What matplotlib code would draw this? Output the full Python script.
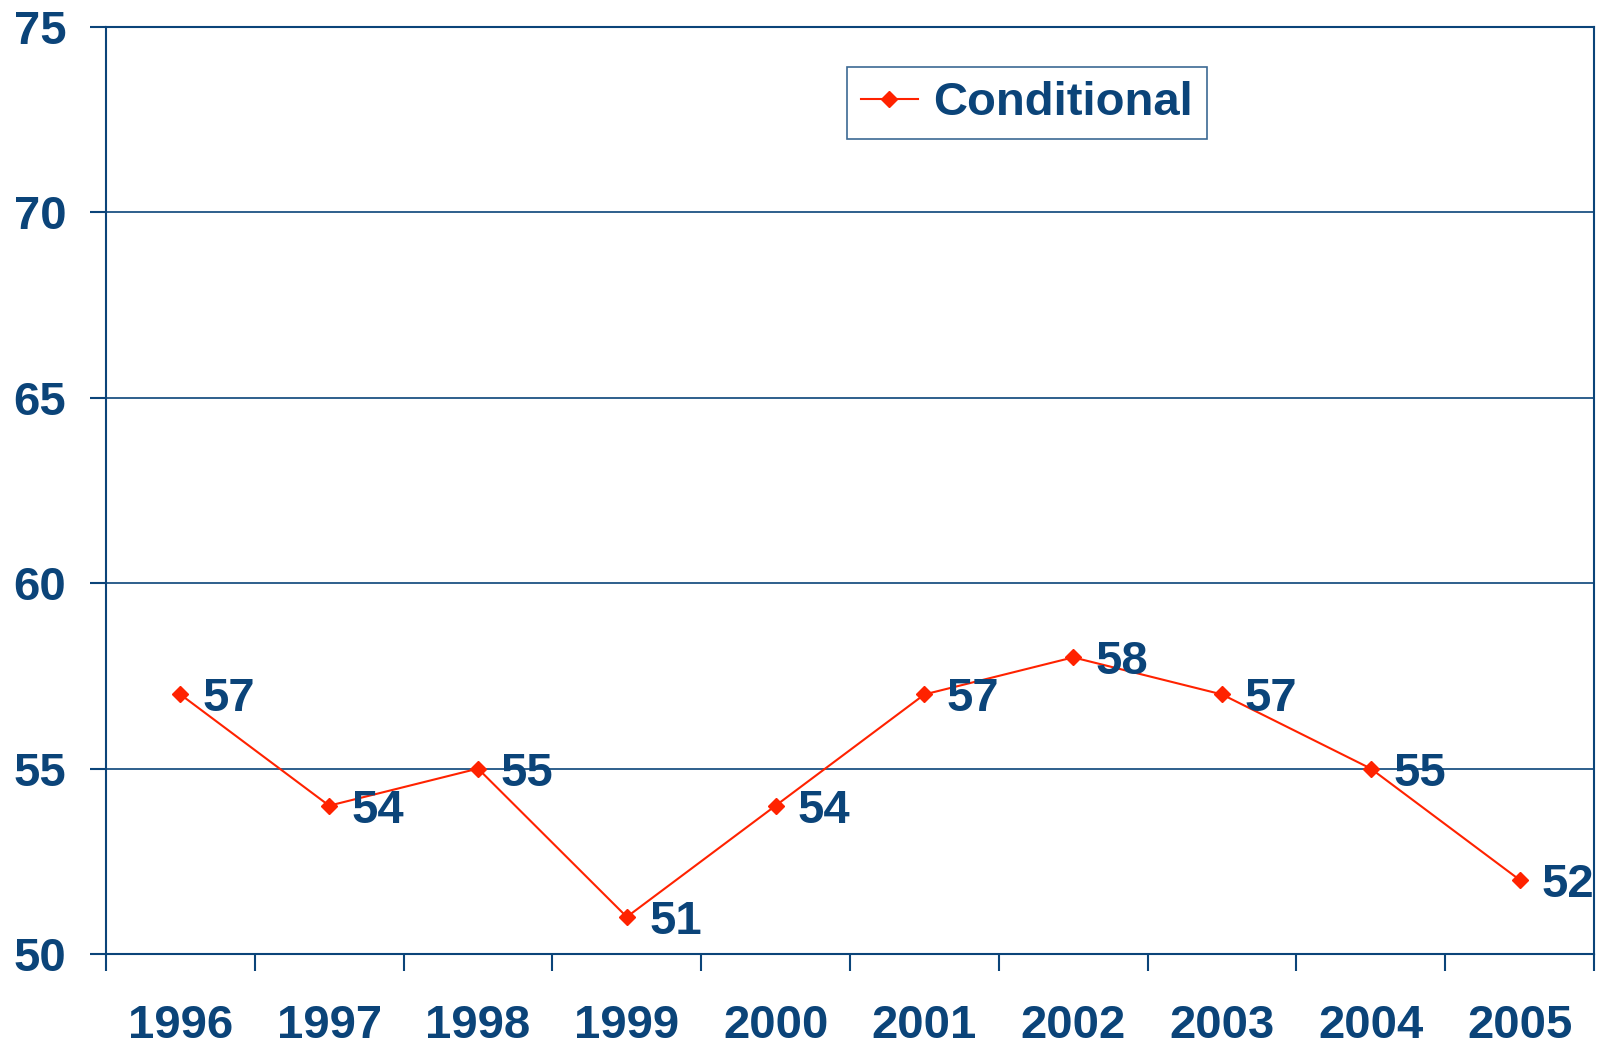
import matplotlib.pyplot as plt
import numpy as np

years = ["1996", "1997", "1998", "1999", "2000", "2001", "2002", "2003", "2004", "2005"]
conditional = [57, 54, 55, 51, 54, 57, 58, 57, 55, 52]

navy = "#0B4479"
red = "#FF2200"
fs = 34

plt.rcParams["font.family"] = ["Liberation Sans", "DejaVu Sans"]
plt.rcParams["font.weight"] = "bold"

W, H = 1607, 1049
fig = plt.figure(figsize=(W / 100, H / 100), dpi=100)
ax = fig.add_axes([106 / W, 1 - 954 / H, (1594 - 106) / W, (954 - 27) / H])

x = np.arange(len(years))
ax.plot(x, conditional, color=red, lw=1.5, marker="D", ms=8.5, label="Conditional")
for xi, v in zip(x, conditional):
    ax.annotate(str(v), (xi, v), xytext=(16, 0), textcoords="offset points",
                va="center_baseline", ha="left", fontsize=fs, color=navy,
                fontweight="bold")

ax.set_xlim(-0.5, len(years) - 0.5)
ax.set_ylim(50, 75)
ax.set_yticks(range(50, 76, 5))
ax.set_xticks(np.arange(-0.5, len(years), 1))
ax.set_xticklabels([])
ax.set_xticks(x, minor=True)
ax.set_xticklabels(years, minor=True)
ax.tick_params(axis="x", which="minor", length=0, pad=36, labelsize=fs, labelcolor=navy)
ax.tick_params(axis="x", which="major", length=12, width=1.5, color=navy, direction="out")
ax.tick_params(axis="y", length=11.5, width=1.5, color=navy, pad=17, labelsize=fs, labelcolor=navy)
ax.grid(axis="y", color=navy, lw=1.2)
ax.set_axisbelow(True)
for s in ax.spines.values():
    s.set_color(navy)
    s.set_linewidth(1.5)

leg = ax.legend(loc="upper left", bbox_to_anchor=(847 / W, 1 - 67 / H),
                bbox_transform=fig.transFigure, borderaxespad=0, fancybox=False,
                frameon=True, fontsize=fs, handlelength=1.2, borderpad=0.3,
                handletextpad=0.33)
leg.get_frame().set_edgecolor(navy)
leg.get_frame().set_linewidth(1.2)
for t in leg.get_texts():
    t.set_color(navy)

fig.savefig("out.png", dpi=100)
